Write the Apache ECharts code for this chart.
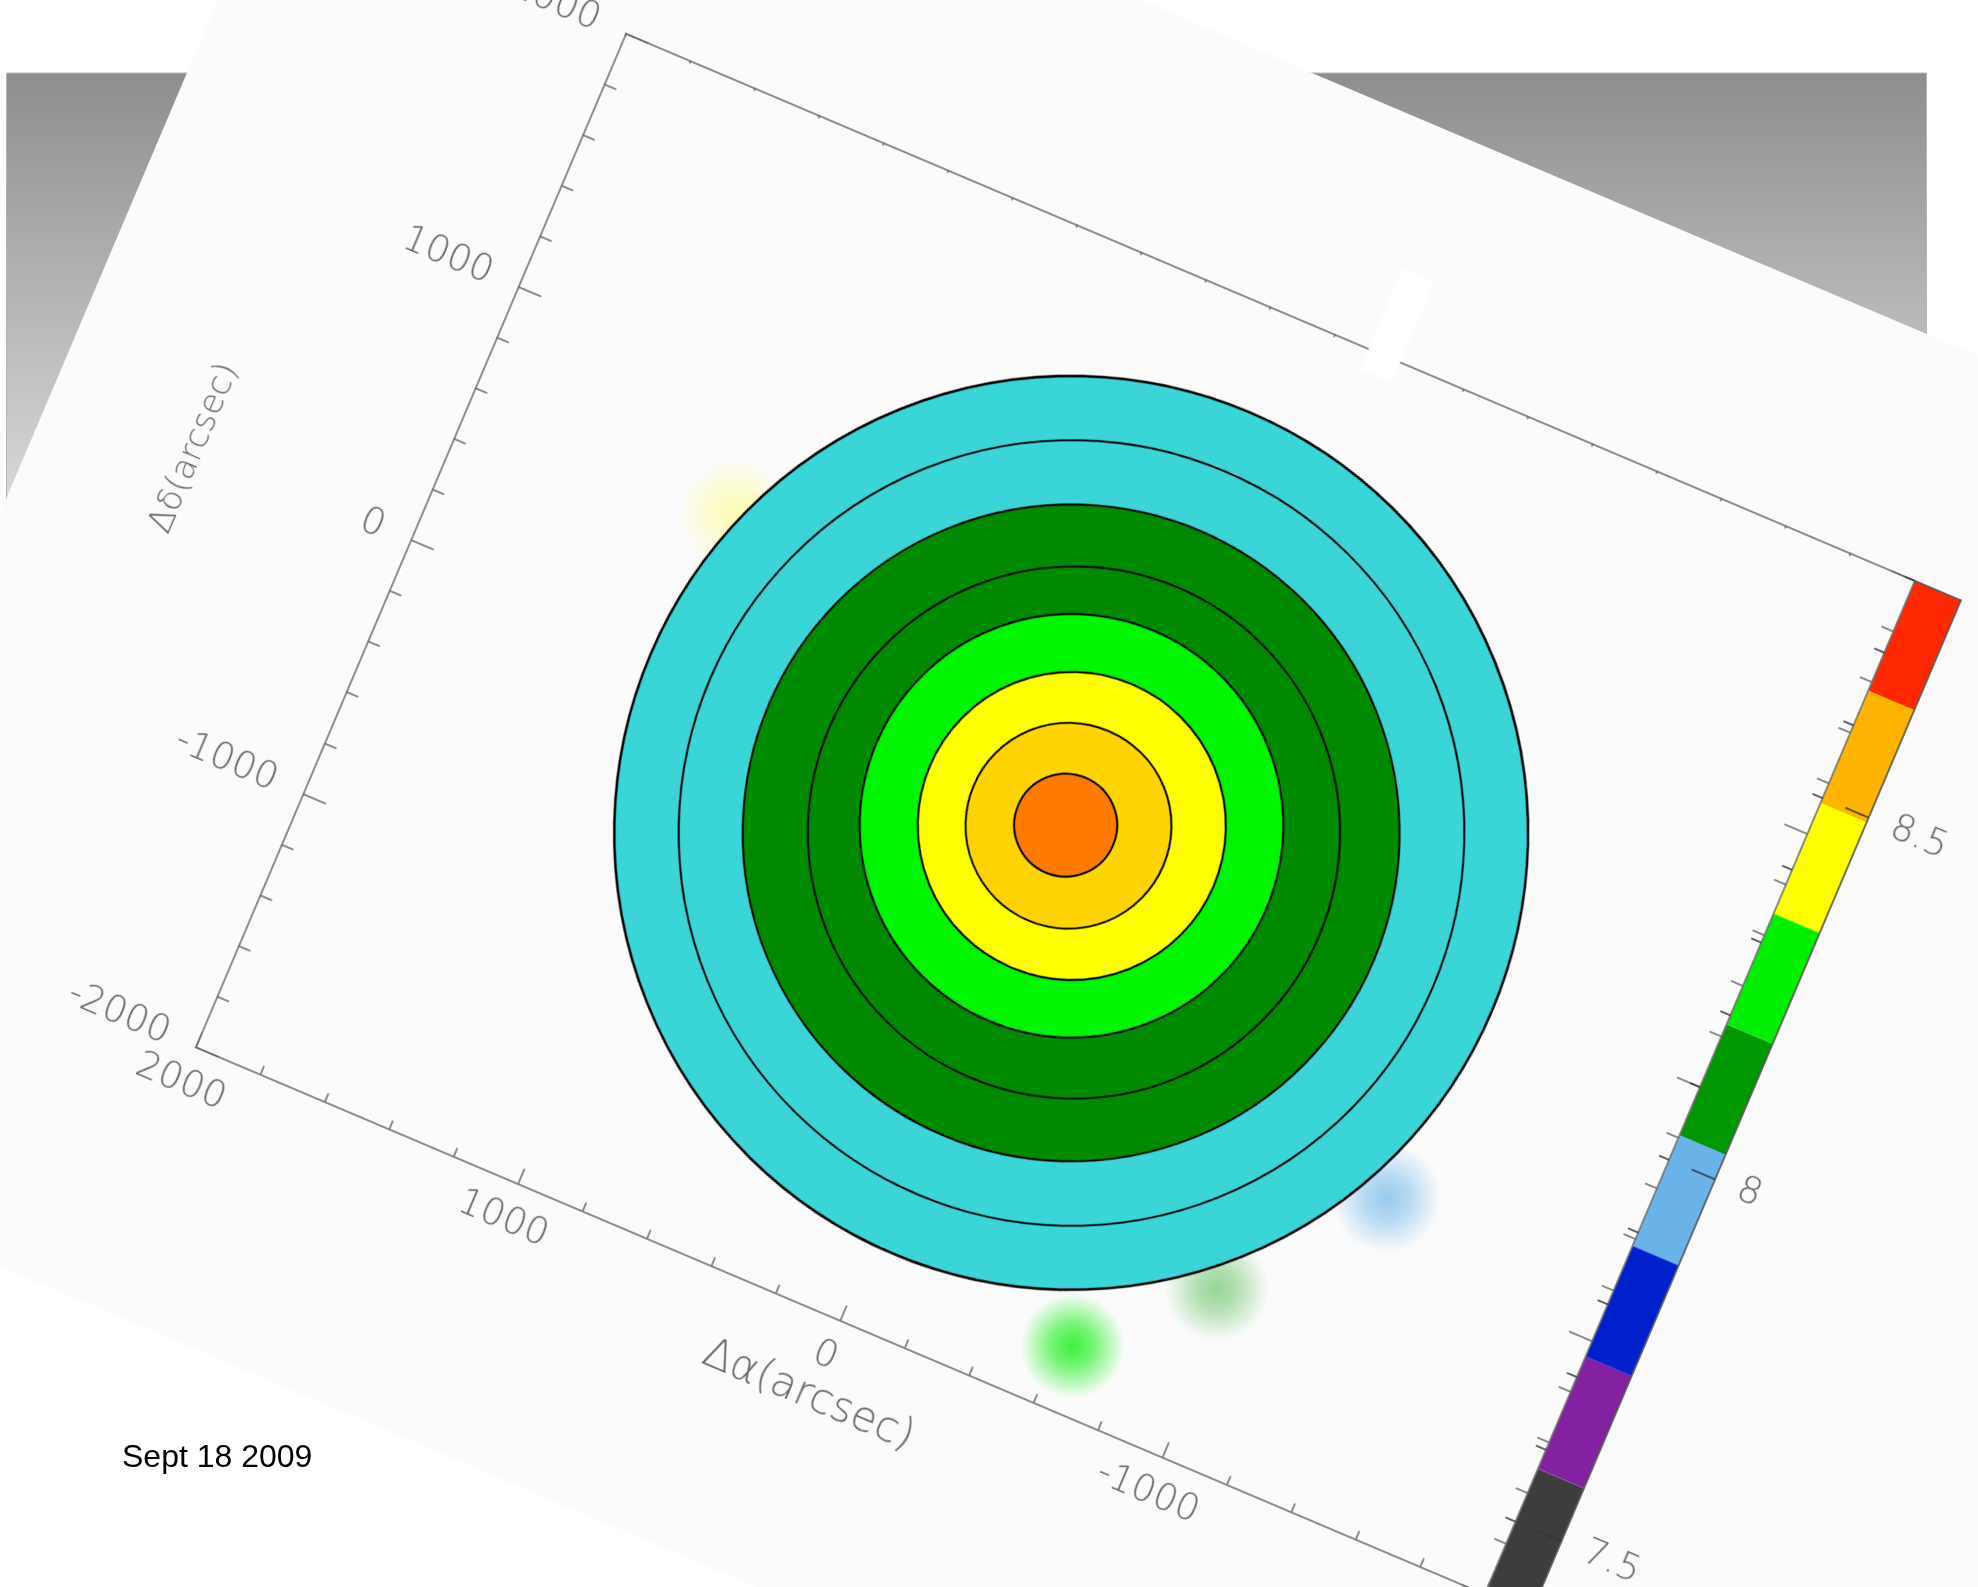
<!DOCTYPE html>
<html>
<head>
<meta charset="utf-8">
<title>Sept 18 2009</title>
<script src="https://cdn.jsdelivr.net/npm/echarts@6/dist/echarts.min.js"></script>
<style>
  html, body { margin: 0; padding: 0; background: #ffffff; overflow: hidden; }
  #page { position: absolute; left: 0; top: 0; width: 1978px; height: 1587px; }
  #panel { position: absolute; transform-origin: 50% 50%; }
</style>
</head>
<body>
<div id="page"></div>
<div id="panel"></div>
<script>
// ---------------------------------------------------------------
// Map frame: offsets from the pointing centre, arcsec
const axisMin = -2000;
const axisMax = 2000;
const axisStep = 1000;
const xAxisName = 'Δα(arcsec)';
const yAxisName = 'Δδ(arcsec)';

// Contour rings, outermost first: centre (arcsec) and radius (arcsec)
const ringX = [-63, -64, -63, -70, -56, -57, -48, -40];
const ringY = [-42, -42, -42, -37, -18, -18, -22, -24];
const ringR = [1305, 1122, 938, 760, 605, 440, 294, 147];

// Colour bar: level boundaries (log10 brightness temperature)
const barLevels = [7.4, 7.573, 7.728, 7.881, 8.034, 8.187, 8.340, 8.493, 8.648, 8.8];
const barLabels = [7.5, 8, 8.5];
const barMinorStep = 0.1;

// Faint compact sources around the main disc
const srcX = [1177, -1300, -639, -955];
const srcY = [549, -815, -1756, -1360];
const srcLevel = [8.42, 7.95, 8.26, 8.1];

// Blanked strip crossing the upper frame edge (arcsec)
const patchX = [-403, -305];
const patchY = [1918, 2317];

const dateText = 'Sept 18 2009';

// ---------------------------------------------------------------
// Styles
const ringColors = ['#3ad5d6', '#3ad5d6', '#008a00', '#008a00', '#00f500', '#ffff00', '#ffd400', '#ff7b00'];
const barColors = ['#3d3d3d', '#8420a2', '#0020cc', '#6ab3e9', '#009800', '#00ee00', '#ffff00', '#ffb400', '#ff2800'];
const srcAlpha = [0.35, 0.85, 0.95, 0.5];
const srcSize = [110, 110, 105, 105];

const axisGrey = '#6a6a6a';
const labelFont = { fontFamily: 'DejaVu Sans', fontWeight: 200, fontSize: 37, color: '#686868' };
const xNameFont = { fontFamily: 'DejaVu Sans', fontWeight: 200, fontSize: 42, color: '#686868' };
const yNameFont = { fontFamily: 'DejaVu Sans', fontWeight: 200, fontSize: 34, color: '#686868' };

// Layout of the tilted map panel
const ROT_DEG = 23;
const plotCx = 1055, plotCy = 813.65;      // page position of the frame centre
const plotW = 1400.6, plotH = 1101.1;
const barW = 49.6;
const padL = 388.5, padT = 231.5;          // frame offset inside the panel
const panelW = 2389, panelH = 1611;

// ---------------------------------------------------------------
// Background page: grey band and date
const page = echarts.init(document.getElementById('page'), null, { renderer: 'canvas' });
page.setOption({
  backgroundColor: '#ffffff',
  animation: false,
  graphic: [
    {
      type: 'rect',
      shape: { x: 6.5, y: 73, width: 1920, height: 520 },
      style: {
        fill: new echarts.graphic.LinearGradient(0, 0, 0, 1, [
          { offset: 0, color: '#8e8e8e' },
          { offset: 1, color: '#e8e8e8' }
        ]),
        stroke: '#b4b4b4',
        lineWidth: 1
      }
    },
    {
      type: 'text',
      style: {
        x: 122, y: 1458.5,
        text: dateText,
        fill: '#000000',
        font: '32px "Liberation Sans", Arial, sans-serif',
        align: 'left',
        verticalAlign: 'middle'
      }
    }
  ]
});

// ---------------------------------------------------------------
// Tilted map panel
const panelDiv = document.getElementById('panel');
const rot = ROT_DEG * Math.PI / 180;
const uc = panelW / 2 - padL - plotW / 2;
const vc = panelH / 2 - padT - plotH / 2;
const pcx = plotCx + uc * Math.cos(rot) - vc * Math.sin(rot);
const pcy = plotCy + uc * Math.sin(rot) + vc * Math.cos(rot);
panelDiv.style.width = panelW + 'px';
panelDiv.style.height = panelH + 'px';
panelDiv.style.left = (pcx - panelW / 2) + 'px';
panelDiv.style.top = (pcy - panelH / 2) + 'px';
panelDiv.style.transform = 'rotate(' + ROT_DEG + 'deg)';

function levelColor(v) {
  for (let i = 0; i < barColors.length; i++) {
    if (v >= barLevels[i] && v < barLevels[i + 1]) return barColors[i];
  }
  return barColors[barColors.length - 1];
}
function hexToRgba(hex, a) {
  const n = parseInt(hex.slice(1), 16);
  return 'rgba(' + ((n >> 16) & 255) + ',' + ((n >> 8) & 255) + ',' + (n & 255) + ',' + a + ')';
}
const plainNumber = (v) => String(v);

const ringData = ringX.map((x, i) => ({ value: [x, ringY[i], ringR[i]], itemStyle: { color: ringColors[i] } }));
const barData = barColors.map((c, i) => ({ value: [barLevels[i], barLevels[i + 1]], itemStyle: { color: c } }));
const srcData = srcX.map((x, i) => {
  const c = levelColor(srcLevel[i]);
  return {
    value: [x, srcY[i]],
    symbolSize: srcSize[i],
    itemStyle: {
      color: new echarts.graphic.RadialGradient(0.5, 0.5, 0.5, [
        { offset: 0, color: hexToRgba(c, srcAlpha[i]) },
        { offset: 0.4, color: hexToRgba(c, srcAlpha[i] * 0.7) },
        { offset: 1, color: hexToRgba(c, 0) }
      ])
    }
  };
});

const frameAxis = (extra) => Object.assign({
  type: 'value',
  min: axisMin,
  max: axisMax,
  interval: axisStep,
  splitLine: { show: false },
  axisLine: { show: true, onZero: false, lineStyle: { color: axisGrey, width: 1.5 } },
  axisTick: { show: true, inside: true, lineStyle: { color: axisGrey, width: 1.5 } },
  minorTick: { show: true, splitNumber: 5, lineStyle: { color: axisGrey, width: 1.5 } },
  axisLabel: Object.assign({ show: true, formatter: plainNumber }, labelFont),
  z: 3
}, extra);

const panelChart = echarts.init(panelDiv, null, { renderer: 'canvas' });
panelChart.setOption({
  backgroundColor: '#fbfbfb',
  animation: false,
  grid: [
    { left: padL, top: padT, width: plotW, height: plotH, containLabel: false },
    { left: padL + plotW, top: padT, width: barW, height: plotH, containLabel: false }
  ],
  xAxis: [
    frameAxis({
      gridIndex: 0, position: 'bottom', inverse: true,
      name: xAxisName, nameLocation: 'middle', nameGap: 60,
      nameTextStyle: xNameFont,
      axisTick: { show: true, inside: true, length: 16, lineStyle: { color: axisGrey, width: 1.5 } },
      minorTick: { show: true, splitNumber: 5, length: 9, lineStyle: { color: axisGrey, width: 1.5 } },
      axisLabel: Object.assign({ show: true, margin: 20, formatter: plainNumber }, labelFont)
    }),
    frameAxis({
      gridIndex: 0, position: 'top', inverse: true,
      axisTick: { show: true, inside: true, length: 3, lineStyle: { color: axisGrey, width: 1.5 } },
      minorTick: { show: true, splitNumber: 5, length: 3, lineStyle: { color: axisGrey, width: 1.5 } },
      axisLabel: { show: false }
    }),
    {
      gridIndex: 1, type: 'value', min: 0, max: 1, position: 'top',
      axisLine: { show: true, onZero: false, lineStyle: { color: '#555555', width: 1.5 } },
      axisTick: { show: false }, axisLabel: { show: false }, splitLine: { show: false }, z: 3
    }
  ],
  yAxis: [
    frameAxis({
      gridIndex: 0, position: 'left',
      name: yAxisName, nameLocation: 'middle', nameGap: 217,
      nameTextStyle: yNameFont,
      axisTick: { show: true, inside: true, length: 25, lineStyle: { color: axisGrey, width: 1.5 } },
      minorTick: { show: true, splitNumber: 5, length: 13, lineStyle: { color: axisGrey, width: 1.5 } },
      axisLabel: Object.assign({ show: true, margin: 30, formatter: plainNumber }, labelFont)
    }),
    frameAxis({
      gridIndex: 0, position: 'right',
      axisTick: { show: true, inside: true, length: 25, lineStyle: { color: axisGrey, width: 1.5 } },
      minorTick: { show: true, splitNumber: 5, length: 13, lineStyle: { color: axisGrey, width: 1.5 } },
      axisLabel: { show: false }
    }),
    {
      gridIndex: 1, type: 'value', position: 'right',
      min: barLevels[0], max: barLevels[barLevels.length - 1],
      axisLine: { show: true, onZero: false, lineStyle: { color: '#444444', width: 1.5 } },
      axisTick: { show: true, inside: true, length: 25, customValues: barLabels, lineStyle: { color: '#333333', width: 1.5 } },
      axisLabel: Object.assign({ show: true, margin: 25, customValues: barLabels, formatter: plainNumber }, labelFont),
      splitLine: { show: false },
      z: 3
    },
    {
      gridIndex: 1, type: 'value', position: 'right',
      min: barLevels[0], max: barLevels[barLevels.length - 1], interval: barMinorStep,
      axisLine: { show: false },
      axisTick: { show: true, inside: true, length: 11, lineStyle: { color: '#333333', width: 1.5 } },
      axisLabel: { show: false },
      splitLine: { show: false },
      z: 3
    }
  ],
  series: [
    {
      name: 'sources',
      type: 'scatter',
      xAxisIndex: 0, yAxisIndex: 0,
      symbol: 'circle',
      silent: true,
      z: 1,
      data: srcData
    },
    {
      name: 'rings',
      type: 'custom',
      xAxisIndex: 0, yAxisIndex: 0,
      z: 2,
      silent: true,
      data: ringData,
      renderItem: function (params, api) {
        const x = api.value(0), y = api.value(1), r = api.value(2);
        const c = api.coord([x, y]);
        const e = api.coord([x + r, y]);
        const rpx = Math.abs(e[0] - c[0]);
        return {
          type: 'circle',
          shape: { cx: c[0], cy: c[1], r: rpx },
          style: { fill: api.visual('color'), stroke: '#000000', lineWidth: params.dataIndex === 0 ? 2.5 : 2 }
        };
      }
    },
    {
      name: 'colour bar',
      type: 'custom',
      xAxisIndex: 2, yAxisIndex: 2,
      z: 2,
      silent: true,
      data: barData,
      renderItem: function (params, api) {
        const cs = params.coordSys;
        const yLo = api.coord([0, api.value(0)])[1];
        const yHi = api.coord([0, api.value(1)])[1];
        return {
          type: 'rect',
          shape: { x: cs.x, y: yHi, width: cs.width, height: yLo - yHi },
          style: { fill: api.visual('color') }
        };
      }
    },
    {
      name: 'blank',
      type: 'custom',
      xAxisIndex: 0, yAxisIndex: 0,
      z: 6,
      silent: true,
      clip: false,
      data: [[patchX[0], patchY[0], patchX[1], patchY[1]]],
      renderItem: function (params, api) {
        const a = api.coord([api.value(0), api.value(1)]);
        const b = api.coord([api.value(2), api.value(3)]);
        return {
          type: 'rect',
          shape: { x: Math.min(a[0], b[0]), y: Math.min(a[1], b[1]), width: Math.abs(b[0] - a[0]), height: Math.abs(b[1] - a[1]) },
          style: { fill: '#ffffff' }
        };
      }
    }
  ]
});
</script>
</body>
</html>
